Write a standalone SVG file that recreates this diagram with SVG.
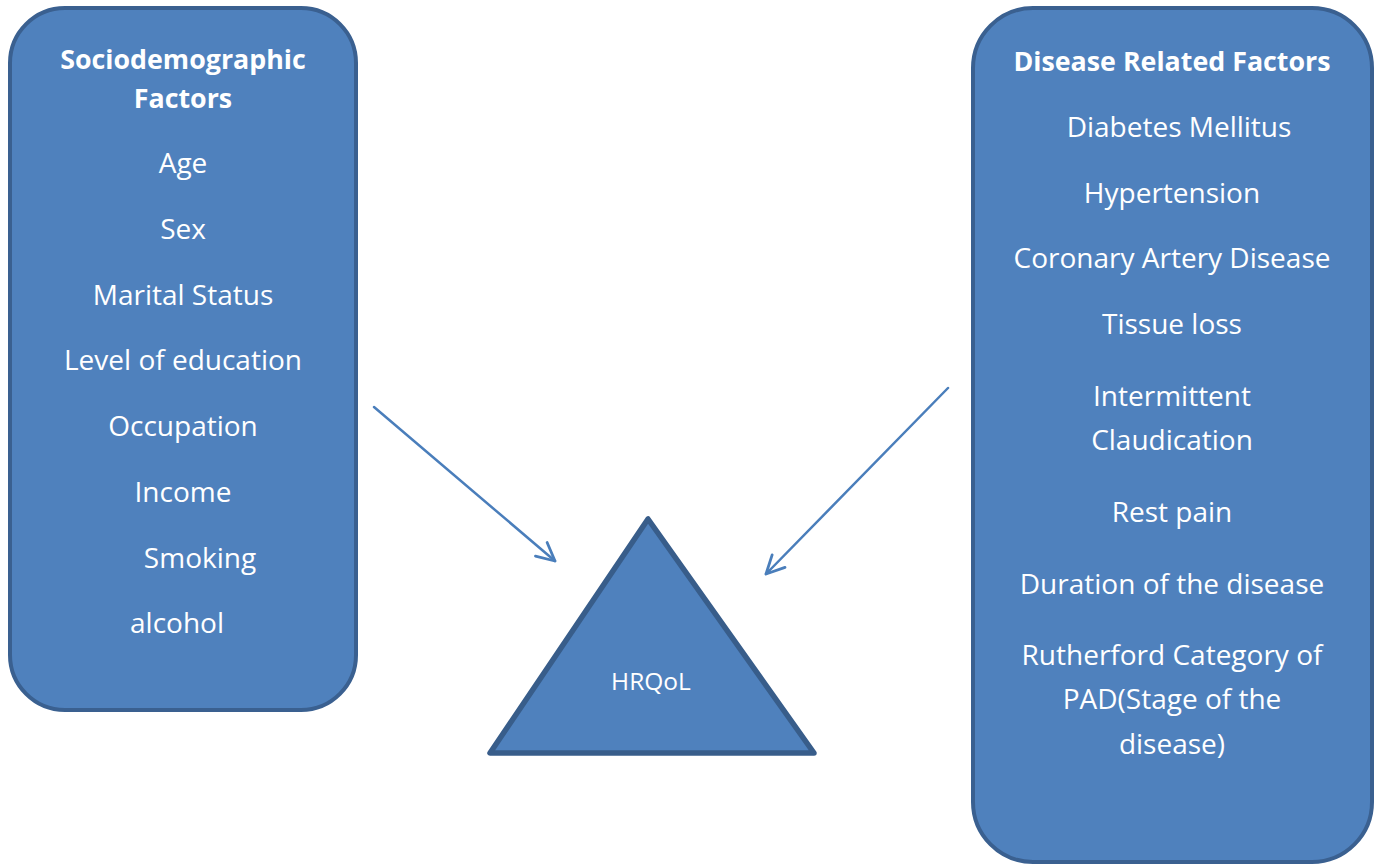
<svg xmlns="http://www.w3.org/2000/svg" width="1384" height="865" viewBox="0 0 1384 865">
<defs>
<style>
.box{fill:#4f81bd;stroke:#3a6090;stroke-width:4}
.t{font-family:"Open Sans",Lato,sans-serif;font-size:28px;fill:#fff;text-anchor:middle}
.h{font-weight:bold;font-size:26.8px}
.c{stroke:#4a7ebb;stroke-width:2.5;fill:none;stroke-linecap:round}
</style>
<marker id="a" viewBox="0 0 22 22" refX="20" refY="11" markerWidth="22" markerHeight="22" markerUnits="userSpaceOnUse" orient="auto">
<path d="M2,2 L20,11 L2,20" fill="none" stroke="#4a7ebb" stroke-width="2.8" stroke-linecap="round" stroke-linejoin="round"/>
</marker>
</defs>
<rect width="1384" height="865" fill="#fff"/>
<g id="socio">
<rect class="box" x="10" y="8" width="346" height="702" rx="55" ry="55"/>
<text class="t h" x="183" y="69">Sociodemographic</text>
<text class="t h" x="183" y="108">Factors</text>
<text class="t" x="183" y="173">Age</text>
<text class="t" x="183" y="239">Sex</text>
<text class="t" x="183" y="305">Marital Status</text>
<text class="t" x="183" y="370">Level of education</text>
<text class="t" x="183" y="436">Occupation</text>
<text class="t" x="183" y="502">Income</text>
<text class="t" x="200" y="568">Smoking</text>
<text class="t" x="177" y="633">alcohol</text>
</g>
<g id="disease">
<rect class="box" x="973" y="8" width="399" height="854" rx="60" ry="60"/>
<text class="t h" x="1172" y="71">Disease Related Factors</text>
<text class="t" x="1179" y="137">Diabetes Mellitus</text>
<text class="t" x="1172" y="203">Hypertension</text>
<text class="t" x="1172" y="268">Coronary Artery Disease</text>
<text class="t" x="1172" y="334">Tissue loss</text>
<text class="t" x="1172" y="406">Intermittent</text>
<text class="t" x="1172" y="450">Claudication</text>
<text class="t" x="1172" y="522">Rest pain</text>
<text class="t" x="1172" y="594">Duration of the disease</text>
<text class="t" x="1172" y="665">Rutherford Category of</text>
<text class="t" x="1172" y="709">PAD(Stage of the</text>
<text class="t" x="1172" y="754">disease)</text>
</g>
<g id="hrqol">
<polygon points="648,519 490,753 814,753" fill="#4f81bd" stroke="#385d8a" stroke-width="5.5" stroke-linejoin="round"/>
<text class="t" x="651" y="690" style="font-size:24.5px">HRQoL</text>
</g>
<g id="connectors">
<line class="c" x1="374" y1="407" x2="555" y2="561" marker-end="url(#a)"/>
<line class="c" x1="948" y1="388" x2="766" y2="574" marker-end="url(#a)"/>
</g>
</svg>
